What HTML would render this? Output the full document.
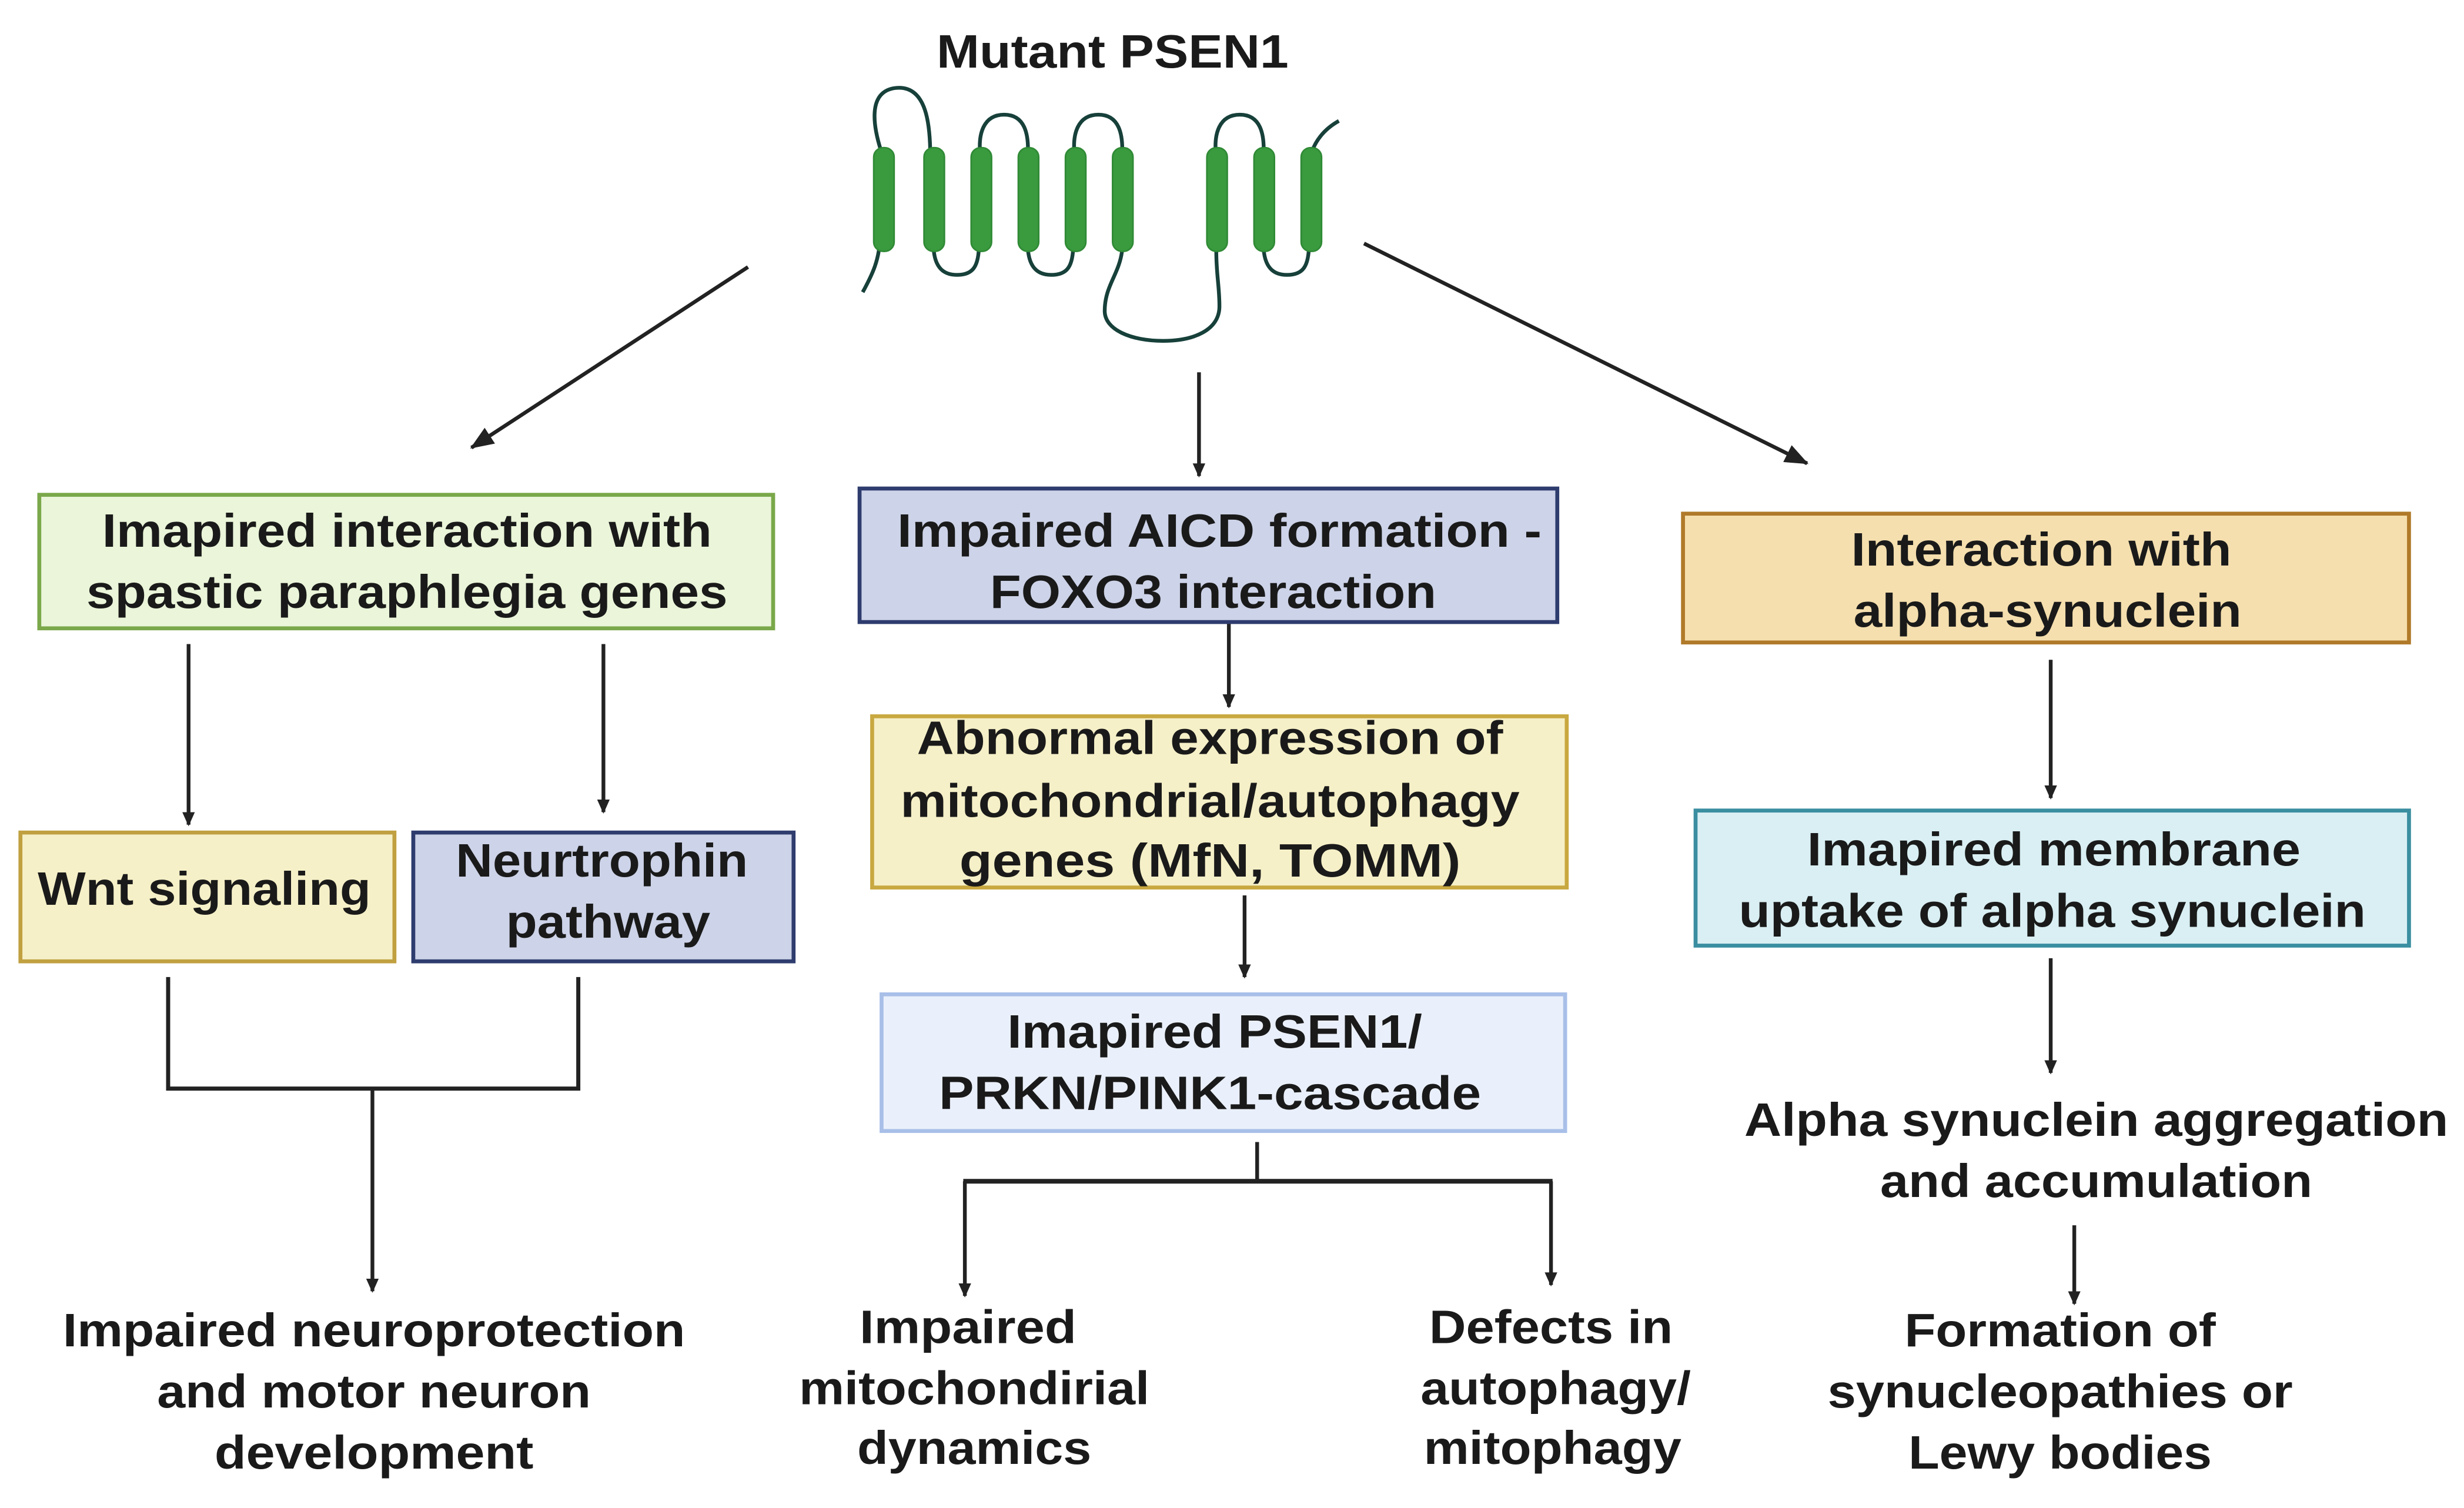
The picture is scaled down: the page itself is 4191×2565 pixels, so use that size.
<!DOCTYPE html>
<html><head><meta charset="utf-8"><style>
html,body{margin:0;padding:0;background:#fff;width:4191px;height:2565px;overflow:hidden}
svg{display:block}
text{font-family:"Liberation Sans",sans-serif;font-weight:bold;font-size:30px;fill:#1a1a1a;text-anchor:middle}
</style></head><body>
<svg width="4191" height="2565" viewBox="0 0 1568 960" preserveAspectRatio="none" xmlns="http://www.w3.org/2000/svg">
<defs>
<marker id="a" markerWidth="10" markerHeight="10" refX="8" refY="5" orient="auto" markerUnits="userSpaceOnUse"><path d="M0,1 L9,5 L0,9 Z" fill="#222"/></marker>
<marker id="b" markerWidth="16" markerHeight="14" refX="14" refY="7" orient="auto" markerUnits="userSpaceOnUse"><path d="M0,1 L15,7 L0,13 Z" fill="#222"/></marker>
</defs>
<text x="708" y="43" font-size="28" textLength="224" lengthAdjust="spacingAndGlyphs">Mutant PSEN1</text>
<g fill="none" stroke="#17403a" stroke-width="2.4">
<path d="M549,186 C555,175 560,165 560,150"/>
<path d="M562,100 C555,80 552,58 570,56 C590,54 592,80 592,100"/>
<path d="M594,155 C594,170 600,175 609,175 C619,175 623,170 623,155"/>
<path d="M624,100 C622,85 626,73 639,73 C652,73 655,85 654,100"/>
<path d="M654,155 C654,170 660,175 669,175 C679,175 683,170 683,155"/>
<path d="M684,100 C682,85 686,73 699,73 C712,73 715,85 714,100"/>
<path d="M714,160 C712,175 703,182 703,198 C703,210 720,217 740,217 C760,217 776,210 776,195 C776,182 774,175 774,160"/>
<path d="M774,100 C772,85 776,73 789,73 C802,73 805,85 804,100"/>
<path d="M804,155 C804,170 810,175 819,175 C829,175 833,170 833,155"/>
<path d="M834,100 C836,90 843,82 852,77"/>
</g>
<g fill="#3a9a3e" stroke="#2f8a35" stroke-width="1">
<rect x="556" y="94" width="13" height="66" rx="6"/><rect x="588" y="94" width="13" height="66" rx="6"/>
<rect x="618" y="94" width="13" height="66" rx="6"/><rect x="648" y="94" width="13" height="66" rx="6"/>
<rect x="678" y="94" width="13" height="66" rx="6"/><rect x="708" y="94" width="13" height="66" rx="6"/>
<rect x="768" y="94" width="13" height="66" rx="6"/><rect x="798" y="94" width="13" height="66" rx="6"/>
<rect x="828" y="94" width="13" height="66" rx="6"/>
</g>
<g stroke="#222" stroke-width="2.4" fill="none">
<line x1="476" y1="170" x2="300" y2="285" marker-end="url(#b)"/>
<line x1="763" y1="237" x2="763" y2="303" marker-end="url(#a)"/>
<line x1="868" y1="155" x2="1150" y2="295" marker-end="url(#b)"/>
<line x1="120" y1="410" x2="120" y2="525" marker-end="url(#a)"/>
<line x1="384" y1="410" x2="384" y2="517" marker-end="url(#a)"/>
<polyline points="107,622 107,693 368,693 368,622" stroke-width="2.6"/>
<line x1="237" y1="693" x2="237" y2="822" marker-end="url(#a)"/>
<line x1="782" y1="397" x2="782" y2="450" marker-end="url(#a)"/>
<line x1="792" y1="570" x2="792" y2="622" marker-end="url(#a)"/>
<line x1="800" y1="727" x2="800" y2="752"/>
<line x1="613" y1="752" x2="988" y2="752" stroke-width="3"/>
<line x1="614" y1="752" x2="614" y2="825" marker-end="url(#a)"/>
<line x1="987" y1="752" x2="987" y2="818" marker-end="url(#a)"/>
<line x1="1305" y1="420" x2="1305" y2="508" marker-end="url(#a)"/>
<line x1="1305" y1="610" x2="1305" y2="683" marker-end="url(#a)"/>
<line x1="1320" y1="780" x2="1320" y2="830" marker-end="url(#a)"/>
</g>
<rect x="25" y="315" width="467" height="85" fill="#eaf5d9" stroke="#7aa84a" stroke-width="2.5"/>
<rect x="547" y="311" width="444" height="85" fill="#cdd3e8" stroke="#2e3c6e" stroke-width="2.5"/>
<rect x="1071" y="327" width="462" height="82" fill="#f5dfae" stroke="#b07a2a" stroke-width="2.5"/>
<rect x="13" y="530" width="238" height="82" fill="#f6f0c8" stroke="#c0a040" stroke-width="2.5"/>
<rect x="263" y="530" width="242" height="82" fill="#cdd3e8" stroke="#2e3c6e" stroke-width="2.5"/>
<rect x="555" y="456" width="442" height="109" fill="#f6f0c8" stroke="#c8a840" stroke-width="2.5"/>
<rect x="561" y="633" width="435" height="87" fill="#eaf0fb" stroke="#a8bfe8" stroke-width="2.5"/>
<rect x="1079" y="516" width="454" height="86" fill="#d9eff3" stroke="#3a8ea0" stroke-width="2.5"/>
<text x="259" y="348" textLength="388" lengthAdjust="spacingAndGlyphs">Imapired interaction with</text>
<text x="259" y="387" textLength="408" lengthAdjust="spacingAndGlyphs">spastic paraphlegia genes</text>
<text x="776" y="348" textLength="410" lengthAdjust="spacingAndGlyphs">Impaired AICD formation -</text>
<text x="772" y="387" textLength="284" lengthAdjust="spacingAndGlyphs">FOXO3 interaction</text>
<text x="1299" y="360" textLength="242" lengthAdjust="spacingAndGlyphs">Interaction with</text>
<text x="1303" y="399" textLength="247" lengthAdjust="spacingAndGlyphs">alpha-synuclein</text>
<text x="130" y="576" textLength="212" lengthAdjust="spacingAndGlyphs">Wnt signaling</text>
<text x="383" y="558" textLength="186" lengthAdjust="spacingAndGlyphs">Neurtrophin</text>
<text x="387" y="597" textLength="130" lengthAdjust="spacingAndGlyphs">pathway</text>
<text x="770" y="480" textLength="373" lengthAdjust="spacingAndGlyphs">Abnormal expression of</text>
<text x="770" y="520" textLength="394" lengthAdjust="spacingAndGlyphs">mitochondrial/autophagy</text>
<text x="770" y="558" textLength="319" lengthAdjust="spacingAndGlyphs">genes (MfN, TOMM)</text>
<text x="773" y="667" textLength="264" lengthAdjust="spacingAndGlyphs">Imapired PSEN1/</text>
<text x="770" y="706" textLength="345" lengthAdjust="spacingAndGlyphs">PRKN/PINK1-cascade</text>
<text x="1307" y="551" textLength="314" lengthAdjust="spacingAndGlyphs">Imapired membrane</text>
<text x="1306" y="590" textLength="399" lengthAdjust="spacingAndGlyphs">uptake of alpha synuclein</text>
<text x="1334" y="723" textLength="448" lengthAdjust="spacingAndGlyphs">Alpha synuclein aggregation</text>
<text x="1334" y="762" textLength="275" lengthAdjust="spacingAndGlyphs">and accumulation</text>
<text x="238" y="857" textLength="396" lengthAdjust="spacingAndGlyphs">Impaired neuroprotection</text>
<text x="238" y="896" textLength="276" lengthAdjust="spacingAndGlyphs">and motor neuron</text>
<text x="238" y="935" textLength="203" lengthAdjust="spacingAndGlyphs">development</text>
<text x="616" y="855" textLength="138" lengthAdjust="spacingAndGlyphs">Impaired</text>
<text x="620" y="894" textLength="223" lengthAdjust="spacingAndGlyphs">mitochondirial</text>
<text x="620" y="932" textLength="149" lengthAdjust="spacingAndGlyphs">dynamics</text>
<text x="987" y="855" textLength="155" lengthAdjust="spacingAndGlyphs">Defects in</text>
<text x="990" y="894" textLength="172" lengthAdjust="spacingAndGlyphs">autophagy/</text>
<text x="988" y="932" textLength="164" lengthAdjust="spacingAndGlyphs">mitophagy</text>
<text x="1311" y="857" textLength="198" lengthAdjust="spacingAndGlyphs">Formation of</text>
<text x="1311" y="896" textLength="296" lengthAdjust="spacingAndGlyphs">synucleopathies or</text>
<text x="1311" y="935" textLength="193" lengthAdjust="spacingAndGlyphs">Lewy bodies</text>
</svg>
</body></html>
